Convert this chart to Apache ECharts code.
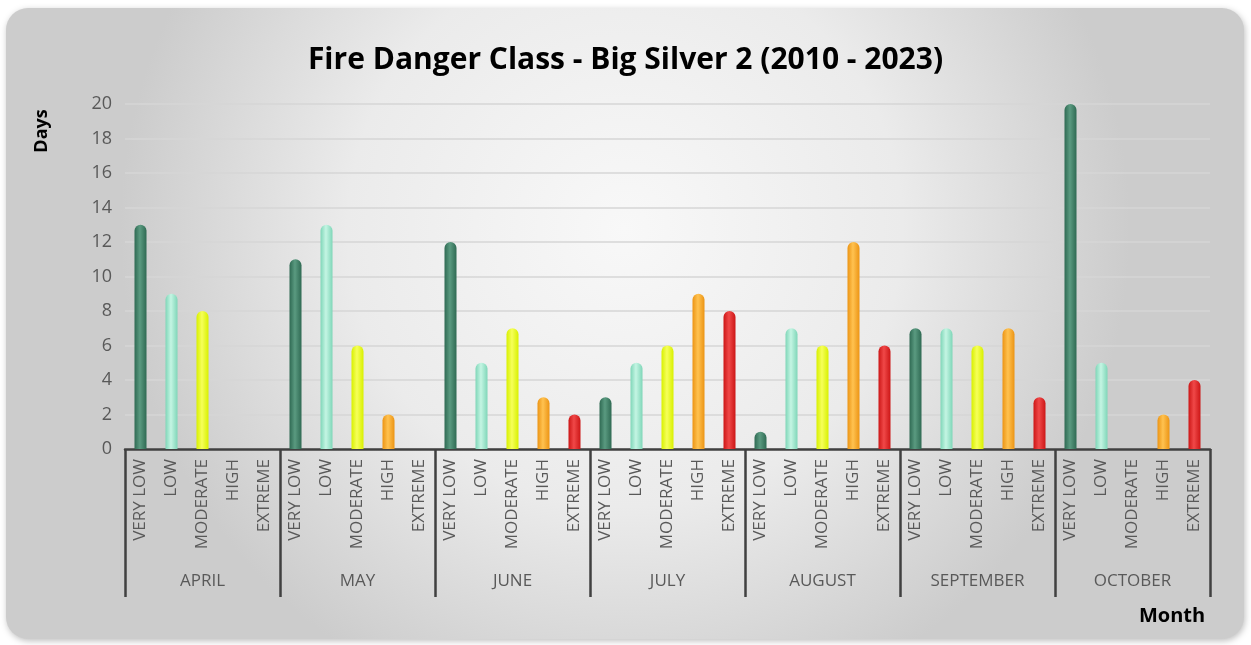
<!DOCTYPE html>
<html>
<head>
<meta charset="utf-8">
<script src="https://cdn.jsdelivr.net/npm/echarts@6/dist/echarts.min.js"></script>
<style>
html,body{margin:0;padding:0;background:#fff;}
#c{width:1251px;height:645px;}
</style>
</head>
<body>
<div id="c"></div>
<script>
const months = ['APRIL','MAY','JUNE','JULY','AUGUST','SEPTEMBER','OCTOBER'];
const classes = ['VERY LOW','LOW','MODERATE','HIGH','EXTREME'];
const april = [13, 9, 8, 0, 0];
const may = [11, 13, 6, 2, 0];
const june = [12, 5, 7, 3, 2];
const july = [3, 5, 6, 9, 8];
const august = [1, 7, 6, 12, 6];
const september = [7, 7, 6, 7, 3];
const october = [20, 5, 0, 2, 4];
const yTicks = [0, 2, 4, 6, 8, 10, 12, 14, 16, 18, 20];

const monthValues = [april, may, june, july, august, september, october];
const classColors = [
  ['#2f6a53', '#5a9a80', '#2f6a53'],
  ['#7fd6b8', '#c4f5e3', '#7fd6b8'],
  ['#d8f000', '#f6ff5a', '#d8f000'],
  ['#ec9414', '#ffc250', '#ec9414'],
  ['#cc1616', '#f04848', '#cc1616']
];
function grad(c){
  return new echarts.graphic.LinearGradient(0,0,1,0,[
    {offset:0,color:c[0]},{offset:0.45,color:c[1]},{offset:1,color:c[2]}
  ]);
}
const cats = [];
const data = [];
monthValues.forEach((arr, mi) => {
  arr.forEach((v, ci) => {
    cats.push(classes[ci]);
    data.push({value: v, itemStyle: {color: grad(classColors[ci])}});
  });
});

const chart = echarts.init(document.getElementById('c'));
const font = "'Open Sans', 'Liberation Sans', sans-serif";
chart.setOption({
  animation: false,
  graphic: [
    {type:'rect', z:-10, shape:{x:6,y:8,width:1238,height:631,r:22},
     style:{fill:new echarts.graphic.RadialGradient(0.5,0.35,0.8,[
       {offset:0,color:'#f8f8f8'},{offset:0.55,color:'#ebebeb'},{offset:1,color:'#cccccc'}]),
       shadowBlur:6, shadowColor:'rgba(0,0,0,0.25)', shadowOffsetX:1, shadowOffsetY:2}},
    {type:'text', x:42, y:131, rotation:Math.PI/2, style:{text:'Days', font:"bold 18px "+font, fill:'#000', align:'center', verticalAlign:'middle'}},
    {type:'text', x:1172, y:616, style:{text:'Month', font:"bold 20px "+font, fill:'#000', align:'center', verticalAlign:'middle'}}
  ],
  title: {
    text: 'Fire Danger Class - Big Silver 2 (2010 - 2023)',
    left: 'center', top: 40,
    textStyle: {fontFamily: font, fontSize: 30, fontWeight: 'bold', color: '#000'}
  },
  grid: {left: 125, right: 41, top: 104, bottom: 196},
  xAxis: [
    {type:'category', data:cats, position:'bottom',
     axisLine:{show:true, lineStyle:{color:'#404040', width:2.5}},
     axisTick:{show:false},
     axisLabel:{interval:0, rotate:90, margin:10, fontFamily:font, fontSize:17, color:'#595959'}},
    {type:'category', data:months, position:'bottom',
     axisLine:{show:false},
     axisTick:{show:true, length:148, interval:0, lineStyle:{color:'#404040', width:2.5}},
     axisLabel:{interval:0, margin:124, fontFamily:font, fontSize:17, color:'#595959'}}
  ],
  yAxis: {
    type:'value', min:0, max:20, interval:2,
    axisLine:{show:false}, axisTick:{show:false},
    splitLine:{lineStyle:{color:'#d6d6d6', width:1.5}},
    axisLabel:{margin:13, fontFamily:font, fontSize:18, color:'#595959',
      formatter: v => yTicks.includes(v) ? String(v) : ''}
  },
  series: [{
    type:'bar', xAxisIndex:0, data:data, barWidth:12,
    itemStyle:{borderRadius:[6,6,0,0]}
  }]
});
</script>
</body>
</html>
